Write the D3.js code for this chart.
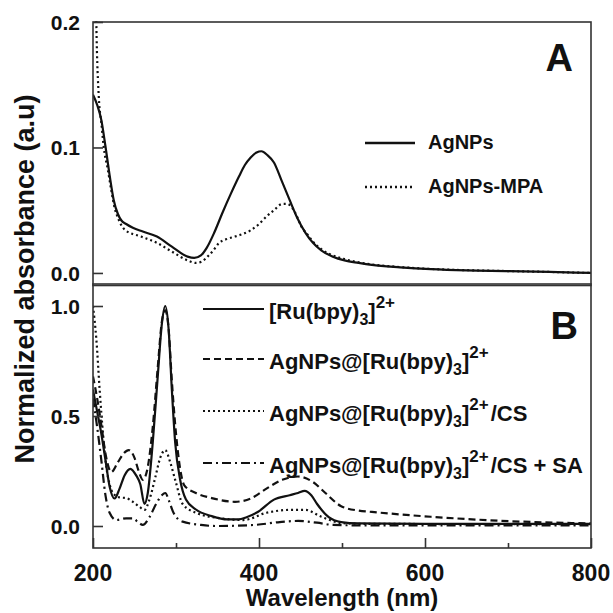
<!DOCTYPE html>
<html>
<head>
<meta charset="utf-8">
<script src="https://cdn.jsdelivr.net/npm/d3@7/dist/d3.min.js"></script>
<style>
  html, body { margin: 0; padding: 0; background: #fff; }
  svg text { font-family: "Liberation Sans", Arial, Helvetica, sans-serif; font-weight: bold; fill: #111; }
</style>
</head>
<body>
<svg id="chart" width="613" height="613"></svg>
<script>
// ---------- DATA ----------
// Panel A: wavelength (nm) / absorbance
const agnpsWl   = [200, 205, 210, 215, 220, 225, 230, 234, 240, 248, 260, 277, 295, 314, 322, 330, 337, 346, 356, 366, 376, 383, 390, 397, 403, 410, 418, 427, 437, 446, 456, 465, 475, 489, 503, 520, 536, 570, 607, 650, 701, 750, 800];
const agnpsAbs  = [0.142, 0.134, 0.122, 0.101, 0.078, 0.058, 0.047, 0.042, 0.039, 0.036, 0.033, 0.029, 0.021, 0.013, 0.012, 0.014, 0.020, 0.032, 0.048, 0.063, 0.077, 0.086, 0.092, 0.096, 0.097, 0.094, 0.088, 0.074, 0.058, 0.044, 0.032, 0.024, 0.018, 0.013, 0.010, 0.008, 0.0064, 0.0045, 0.003, 0.002, 0.0015, 0.0008, 0.0];

const mpaWl     = [200, 202, 204, 207, 210, 213, 218, 222, 226, 230, 239, 258, 277, 295, 314, 324, 331, 338, 345, 352, 361, 371, 380, 390, 400, 409, 418, 428, 434, 440, 445, 451, 458, 465, 475, 489, 503, 520, 536, 570, 607, 650, 701, 750, 800];
const mpaAbs    = [0.40, 0.30, 0.20, 0.14, 0.12, 0.10, 0.082, 0.066, 0.052, 0.044, 0.034, 0.029, 0.024, 0.017, 0.010, 0.008, 0.009, 0.013, 0.018, 0.024, 0.027, 0.029, 0.031, 0.034, 0.039, 0.045, 0.050, 0.055, 0.055, 0.052, 0.046, 0.037, 0.031, 0.025, 0.019, 0.014, 0.011, 0.0085, 0.0068, 0.0047, 0.0032, 0.0022, 0.0015, 0.0008, 0.0];

// Panel B: wavelength (nm) / normalized absorbance
const ruWl   = [200, 205, 210, 215, 220, 226, 232, 238, 245, 252, 257, 262, 266, 272, 278, 283, 287, 291, 295, 299, 305, 312, 324, 343, 362, 375, 385, 399, 418, 437, 447, 455, 463, 470, 484, 499, 520, 600, 700, 800];
const ruAbs  = [0.62, 0.52, 0.42, 0.30, 0.18, 0.125, 0.17, 0.23, 0.26, 0.23, 0.19, 0.10, 0.15, 0.38, 0.68, 0.92, 1.0, 0.90, 0.62, 0.38, 0.21, 0.12, 0.075, 0.045, 0.03, 0.03, 0.04, 0.065, 0.12, 0.14, 0.15, 0.16, 0.14, 0.10, 0.04, 0.018, 0.012, 0.01, 0.01, 0.01];

const agruWl  = [200, 205, 210, 215, 222, 230, 237, 243, 250, 255, 260, 265, 272, 278, 283, 287, 291, 295, 300, 305, 310, 324, 343, 371, 390, 409, 428, 447, 465, 480, 499, 520, 536, 607, 701, 800];
const agruAbs = [0.68, 0.58, 0.46, 0.33, 0.245, 0.29, 0.33, 0.345, 0.31, 0.25, 0.21, 0.25, 0.45, 0.72, 0.93, 0.98, 0.90, 0.66, 0.42, 0.26, 0.185, 0.15, 0.127, 0.11, 0.125, 0.17, 0.21, 0.225, 0.20, 0.15, 0.09, 0.07, 0.064, 0.042, 0.022, 0.012];

const csWl   = [200, 204, 208, 212, 216, 220, 224, 232, 240, 248, 256, 262, 268, 275, 281, 287, 293, 299, 308, 324, 352, 381, 409, 437, 456, 475, 499, 520, 800];
const csAbs  = [1.0, 0.85, 0.62, 0.42, 0.27, 0.19, 0.15, 0.13, 0.127, 0.11, 0.087, 0.073, 0.12, 0.22, 0.31, 0.345, 0.29, 0.21, 0.10, 0.06, 0.036, 0.027, 0.06, 0.073, 0.073, 0.042, 0.014, 0.01, 0.008];

const saWl   = [200, 205, 210, 215, 220, 228, 240, 248, 255, 260, 268, 276, 283, 287, 292, 297, 308, 330, 347, 395, 425, 447, 470, 489, 520, 800];
const saAbs  = [0.58, 0.45, 0.30, 0.14, 0.06, 0.027, 0.035, 0.035, 0.015, 0.005, 0.04, 0.10, 0.14, 0.15, 0.11, 0.06, 0.02, 0.005, 0.0, 0.005, 0.018, 0.023, 0.015, 0.005, 0.003, 0.003];

const xTicks     = [200, 400, 600, 800];
const xMinor     = [300, 500, 700];
const yTicksA    = [0.0, 0.1, 0.2];
const yTicksB    = [0.0, 0.5, 1.0];
const legendA    = ["AgNPs", "AgNPs-MPA"];
const legendBPrefix = ["", "AgNPs@", "AgNPs@", "AgNPs@"];
const legendBSuffix = ["", "", "/CS", "/CS + SA"];

// ---------- LAYOUT ----------
const svg = d3.select("#chart");
const left = 93, right = 591;
const topA = 22, botA = 285.5;
const topB = 284, botB = 548;

const x = d3.scaleLinear().domain([200, 800]).range([left, right]);
const yA = d3.scaleLinear().domain([-0.01, 0.2]).range([botA, topA]);
const yB = d3.scaleLinear().domain([-0.1, 1.1]).range([botB, topB]);

const defs = svg.append("defs");
defs.append("clipPath").attr("id", "clipA").append("rect")
  .attr("x", left).attr("y", topA - 1).attr("width", right - left).attr("height", botA - topA);
defs.append("clipPath").attr("id", "clipB").append("rect")
  .attr("x", left).attr("y", topB + 1).attr("width", right - left).attr("height", botB - topB - 1);

const styles = {
  solid:   null,
  dotted:  "2,3",
  dashed:  "7,4",
  dashdot: "9,4,2,4"
};

function drawLine(g, wl, ab, yScale, dash, clip) {
  const pts = wl.map((w, i) => [w, ab[i]]);
  const line = d3.line().x(d => x(d[0])).y(d => yScale(d[1])).curve(d3.curveMonotoneX);
  g.append("path").datum(pts)
    .attr("clip-path", `url(#${clip})`)
    .attr("d", line)
    .attr("fill", "none")
    .attr("stroke", "#111")
    .attr("stroke-width", 2.2)
    .attr("stroke-dasharray", dash);
}

const plot = svg.append("g");

// Panel A lines
drawLine(plot, mpaWl, mpaAbs, yA, styles.dotted, "clipA");
drawLine(plot, agnpsWl, agnpsAbs, yA, styles.solid, "clipA");

// Panel B lines
drawLine(plot, saWl, saAbs, yB, styles.dashdot, "clipB");
drawLine(plot, csWl, csAbs, yB, styles.dotted, "clipB");
drawLine(plot, agruWl, agruAbs, yB, styles.dashed, "clipB");
drawLine(plot, ruWl, ruAbs, yB, styles.solid, "clipB");

// Frames
svg.append("rect").attr("x", left).attr("y", topA).attr("width", right - left).attr("height", botA - topA)
  .attr("fill", "none").attr("stroke", "#333").attr("stroke-width", 1.6);
svg.append("rect").attr("x", left).attr("y", topB).attr("width", right - left).attr("height", botB - topB)
  .attr("fill", "none").attr("stroke", "#333").attr("stroke-width", 1.6);

// Axes (ticks inward)
const axA = svg.append("g").attr("transform", `translate(${left},0)`)
  .call(d3.axisRight(yA).tickValues(yTicksA).tickSize(10).tickFormat(""));
const axB = svg.append("g").attr("transform", `translate(${left},0)`)
  .call(d3.axisRight(yB).tickValues(yTicksB).tickSize(10).tickFormat(""));
const axX = svg.append("g").attr("transform", `translate(0,${botB})`)
  .call(d3.axisTop(x).tickValues(xTicks).tickSize(10).tickFormat(""));
const axXm = svg.append("g").attr("transform", `translate(0,${botB})`)
  .call(d3.axisTop(x).tickValues(xMinor).tickSize(5).tickFormat(""));
[axA, axB, axX, axXm].forEach(a => {
  a.select(".domain").remove();
  a.selectAll("line").attr("stroke", "#333").attr("stroke-width", 1.6);
});

// Tick labels
svg.append("g").selectAll("text").data(yTicksA).join("text")
  .attr("x", 80).attr("y", d => yA(d)).attr("dy", "0.36em")
  .attr("text-anchor", "end").style("font-size", "21px")
  .text(d => d3.format(".1f")(d));
svg.append("g").selectAll("text").data(yTicksB).join("text")
  .attr("x", 80).attr("y", d => yB(d)).attr("dy", "0.36em")
  .attr("text-anchor", "end").style("font-size", "21px")
  .text(d => d3.format(".1f")(d));
svg.append("g").selectAll("text").data(xTicks).join("text")
  .attr("x", d => x(d)).attr("y", 581)
  .attr("text-anchor", "middle").style("font-size", "23px")
  .text(d => d);

// Axis titles
svg.append("text").attr("x", (left + right) / 2).attr("y", 606)
  .attr("text-anchor", "middle").style("font-size", "24px")
  .text("Wavelength (nm)");
svg.append("text").attr("transform", "translate(34,279) rotate(-90)")
  .attr("text-anchor", "middle").style("font-size", "27px")
  .text("Normalized absorbance (a.u)");

// Panel labels
svg.append("text").attr("x", 573).attr("y", 71).attr("text-anchor", "end")
  .style("font-size", "38px").text("A");
svg.append("text").attr("x", 578).attr("y", 339).attr("text-anchor", "end")
  .style("font-size", "38px").text("B");

// Legend A
const legA = svg.append("g");
const legAStyles = [styles.solid, styles.dotted];
legendA.forEach((name, i) => {
  const yy = 143 + i * 44;
  legA.append("line").attr("x1", 365).attr("x2", 415).attr("y1", yy).attr("y2", yy)
    .attr("stroke", "#111").attr("stroke-width", 2.4).attr("stroke-dasharray", legAStyles[i]);
  legA.append("text").attr("x", 428).attr("y", yy + 6).style("font-size", "20px").text(name);
});

// Legend B
const legB = svg.append("g");
const legBStyles = [styles.solid, styles.dashed, styles.dotted, styles.dashdot];
const legBLineY = [309, 359, 411, 463];
legBStyles.forEach((dash, i) => {
  const yy = legBLineY[i];
  legB.append("line").attr("x1", 203).attr("x2", 264).attr("y1", yy).attr("y2", yy)
    .attr("stroke", "#111").attr("stroke-width", 2.2).attr("stroke-dasharray", dash);
  const t = legB.append("text").attr("x", 269).attr("y", yy + 10).style("font-size", "22px");
  t.append("tspan").text(legendBPrefix[i] + "[Ru(bpy)");
  t.append("tspan").attr("dy", 6).style("font-size", "16px").text("3");
  t.append("tspan").attr("dy", -6).text("]");
  t.append("tspan").attr("dy", -11).style("font-size", "17px").text("2+");
  if (legendBSuffix[i]) t.append("tspan").attr("dy", 11).attr("dx", 2).text(legendBSuffix[i]);
});
</script>
</body>
</html>
